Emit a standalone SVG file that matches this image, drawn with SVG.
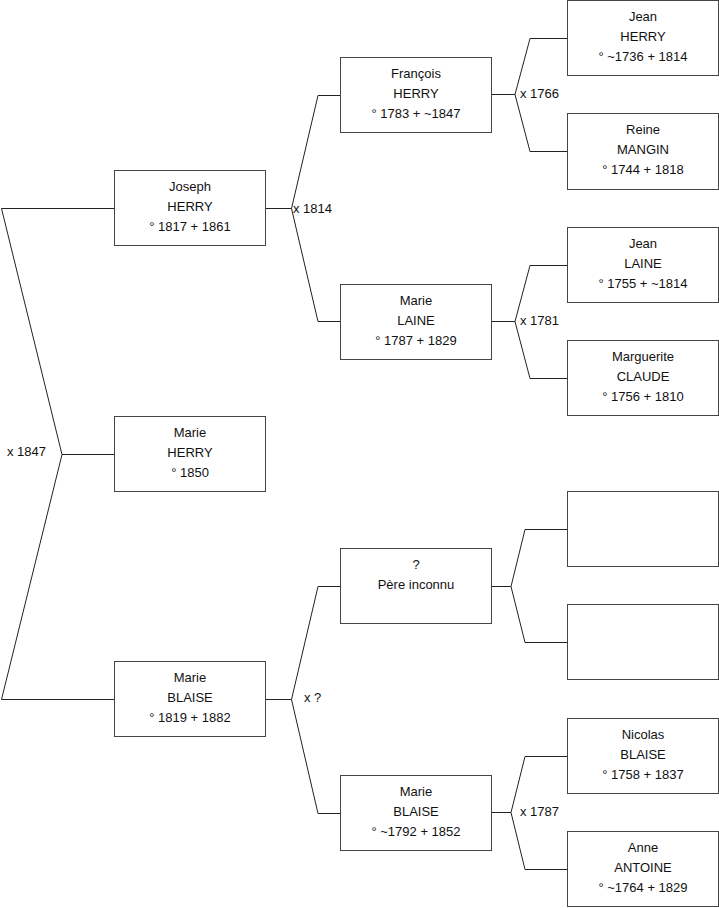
<svg xmlns="http://www.w3.org/2000/svg" width="719" height="908" viewBox="0 0 719 908">
<style>
.box{fill:#fff;stroke:#444;stroke-width:1}
.ln{fill:none;stroke:#222;stroke-width:1}
text{font-family:"Liberation Sans",Arial,sans-serif;font-size:13px;fill:#111}
.c{text-anchor:middle}
</style>
<rect width="719" height="908" fill="#fff"/>
<g id="connectors">
<polyline class="ln" points="114,208.5 1.5,208.5 62,454.5 1.5,699.5 114,699.5"/>
<line class="ln" x1="62" y1="454.5" x2="114" y2="454.5"/>
<polyline class="ln" points="341,95.5 318,95.5 291.5,208.5 318,321.5 341,321.5"/>
<line class="ln" x1="265" y1="208.5" x2="291.5" y2="208.5"/>
<polyline class="ln" points="341,586.5 318,586.5 291.5,699.5 318,813.5 341,813.5"/>
<line class="ln" x1="265" y1="699.5" x2="291.5" y2="699.5"/>
<polyline class="ln" points="567,38.5 530,38.5 515,94.5 530,151.5 567,151.5"/>
<line class="ln" x1="492" y1="94.5" x2="515" y2="94.5"/>
<polyline class="ln" points="567,265.5 530,265.5 515,321.5 530,378.5 567,378.5"/>
<line class="ln" x1="492" y1="321.5" x2="515" y2="321.5"/>
<polyline class="ln" points="567,529.5 525,529.5 511,586.5 525,642.5 567,642.5"/>
<line class="ln" x1="492" y1="586.5" x2="511" y2="586.5"/>
<polyline class="ln" points="567,756.5 525,756.5 511,812.5 525,869.5 567,869.5"/>
<line class="ln" x1="492" y1="812.5" x2="511" y2="812.5"/>
<text x="7" y="456">x 1847</text>
<text x="293" y="212.5">x 1814</text>
<text x="304" y="702">x ?</text>
<text x="520" y="98">x 1766</text>
<text x="520" y="325">x 1781</text>
<text x="520" y="816">x 1787</text>
</g>
<g id="joseph-herry"><rect class="box" x="114.5" y="170.5" width="151" height="75"/><text class="c" x="190" y="191">Joseph</text><text class="c" x="190" y="211">HERRY</text><text class="c" x="190" y="231">° 1817 + 1861</text></g>
<g id="marie-herry"><rect class="box" x="114.5" y="416.5" width="151" height="75"/><text class="c" x="190" y="437">Marie</text><text class="c" x="190" y="457">HERRY</text><text class="c" x="190" y="477">° 1850</text></g>
<g id="marie-blaise-1819"><rect class="box" x="114.5" y="661.5" width="151" height="75"/><text class="c" x="190" y="682">Marie</text><text class="c" x="190" y="702">BLAISE</text><text class="c" x="190" y="722">° 1819 + 1882</text></g>
<g id="francois-herry"><rect class="box" x="340.5" y="57.5" width="151" height="75"/><text class="c" x="416" y="78">François</text><text class="c" x="416" y="98">HERRY</text><text class="c" x="416" y="118">° 1783 + ~1847</text></g>
<g id="marie-laine"><rect class="box" x="340.5" y="284.5" width="151" height="75"/><text class="c" x="416" y="305">Marie</text><text class="c" x="416" y="325">LAINE</text><text class="c" x="416" y="345">° 1787 + 1829</text></g>
<g id="pere-inconnu"><rect class="box" x="340.5" y="548.5" width="151" height="75"/><text class="c" x="416" y="569">?</text><text class="c" x="416" y="589">Père inconnu</text></g>
<g id="marie-blaise-1792"><rect class="box" x="340.5" y="775.5" width="151" height="75"/><text class="c" x="416" y="796">Marie</text><text class="c" x="416" y="816">BLAISE</text><text class="c" x="416" y="836">° ~1792 + 1852</text></g>
<g id="jean-herry"><rect class="box" x="567.5" y="0.5" width="151" height="75"/><text class="c" x="643" y="21">Jean</text><text class="c" x="643" y="41">HERRY</text><text class="c" x="643" y="61">° ~1736 + 1814</text></g>
<g id="reine-mangin"><rect class="box" x="567.5" y="113.5" width="151" height="76"/><text class="c" x="643" y="134">Reine</text><text class="c" x="643" y="154">MANGIN</text><text class="c" x="643" y="174">° 1744 + 1818</text></g>
<g id="jean-laine"><rect class="box" x="567.5" y="227.5" width="151" height="75"/><text class="c" x="643" y="248">Jean</text><text class="c" x="643" y="268">LAINE</text><text class="c" x="643" y="288">° 1755 + ~1814</text></g>
<g id="marguerite-claude"><rect class="box" x="567.5" y="340.5" width="151" height="75"/><text class="c" x="643" y="361">Marguerite</text><text class="c" x="643" y="381">CLAUDE</text><text class="c" x="643" y="401">° 1756 + 1810</text></g>
<g id="empty-1"><rect class="box" x="567.5" y="491.5" width="151" height="75"/></g>
<g id="empty-2"><rect class="box" x="567.5" y="604.5" width="151" height="75"/></g>
<g id="nicolas-blaise"><rect class="box" x="567.5" y="718.5" width="151" height="75"/><text class="c" x="643" y="739">Nicolas</text><text class="c" x="643" y="759">BLAISE</text><text class="c" x="643" y="779">° 1758 + 1837</text></g>
<g id="anne-antoine"><rect class="box" x="567.5" y="831.5" width="151" height="75"/><text class="c" x="643" y="852">Anne</text><text class="c" x="643" y="872">ANTOINE</text><text class="c" x="643" y="892">° ~1764 + 1829</text></g>
</svg>
